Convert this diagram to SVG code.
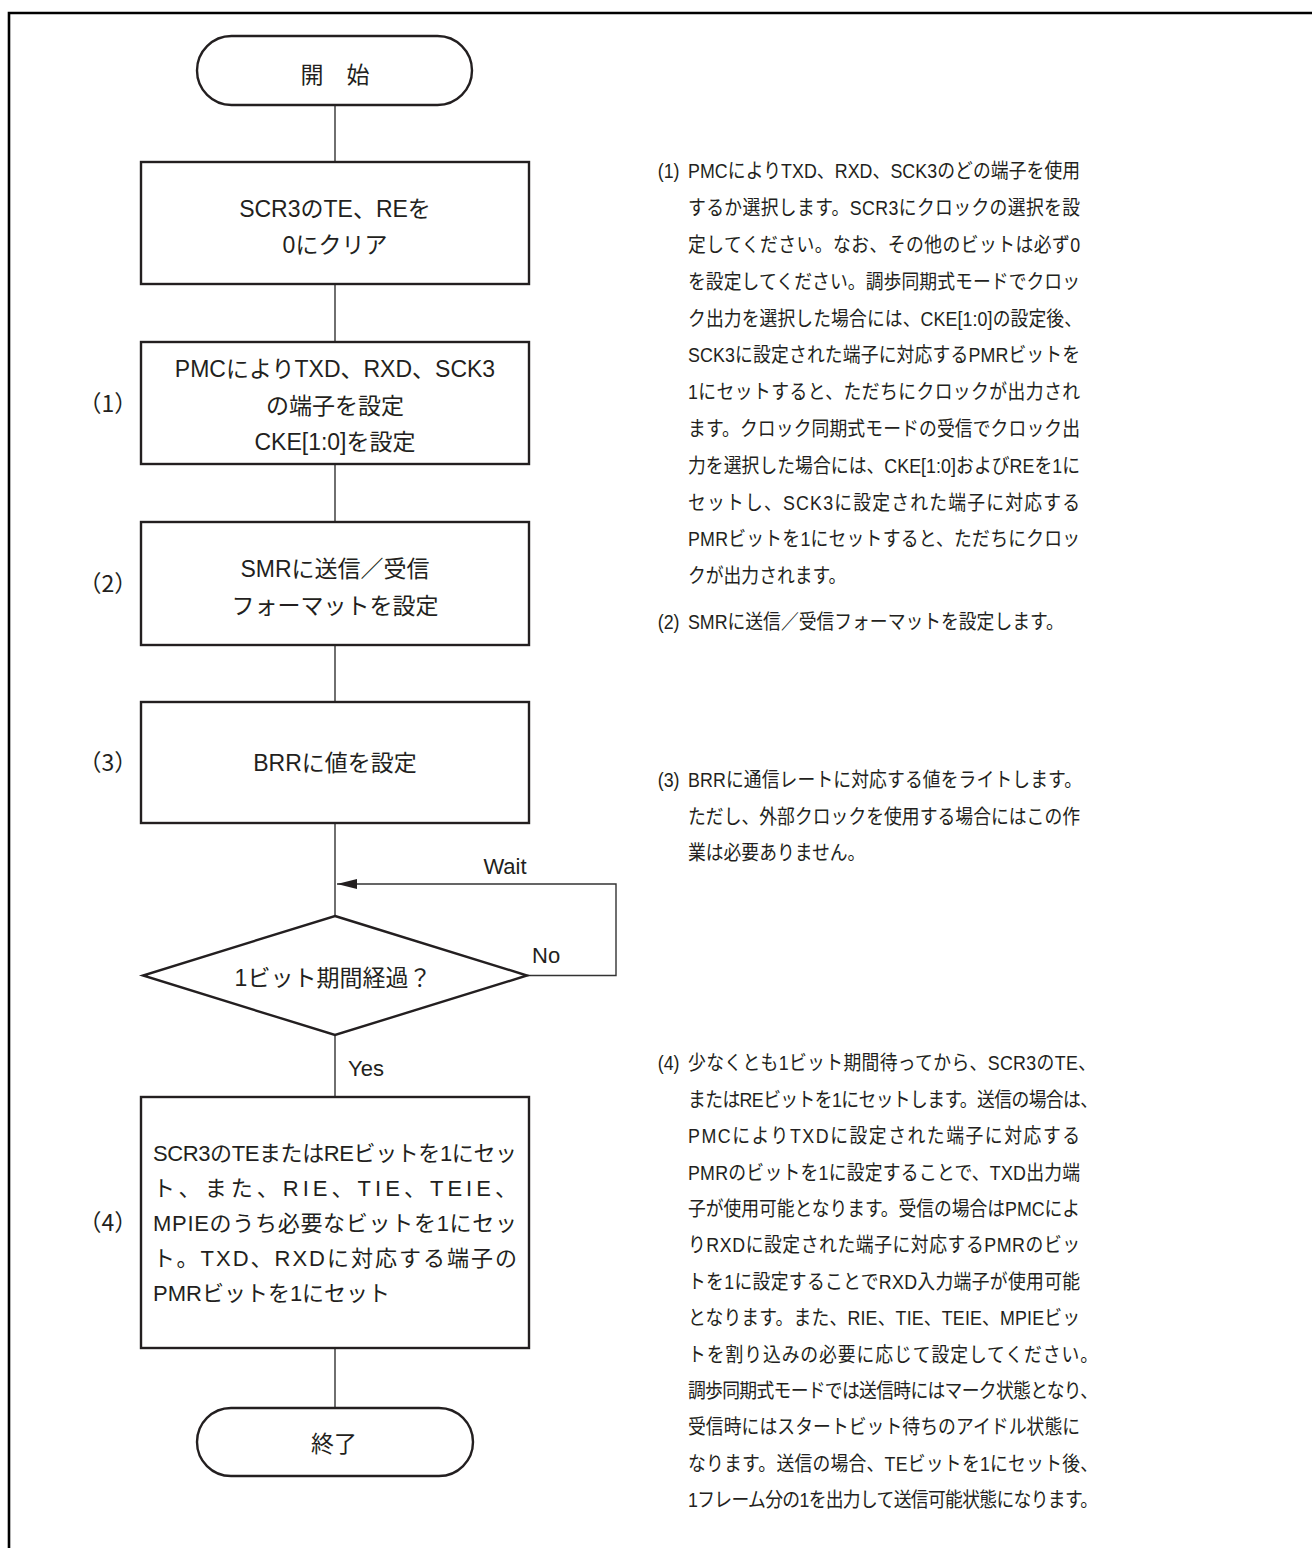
<svg xmlns="http://www.w3.org/2000/svg" width="1312" height="1548" viewBox="0 0 1312 1548">
<style>
  .frame{fill:none;stroke:#000;stroke-width:2.6}
  .box{fill:#fff;stroke:#231f20;stroke-width:2.4}
  .conn{fill:none;stroke:#333;stroke-width:1.4}
  .t{font-family:"Liberation Sans","Noto Sans CJK JP",sans-serif;fill:#231f20}
  .c{font-size:23px;text-anchor:middle}
  .b5{font-size:22px}
  .lbl{font-size:22px}
  .num{font-family:"Noto Sans CJK JP",sans-serif;font-size:23px;text-anchor:middle;fill:#231f20}
  .note{font-size:20px}
</style>
<defs>
  <marker id="arrow" markerUnits="userSpaceOnUse" markerWidth="20" markerHeight="10" viewBox="0 0 20 10" refX="20" refY="5" orient="auto">
    <path d="M0,0 L20,5 L0,10 Z" fill="#231f20"/>
  </marker>
</defs>
<rect x="0" y="0" width="1312" height="1548" fill="#fff"/>
<path class="frame" d="M9,1548 V13 H1312"/>

<g id="connectors">
  <path class="conn" d="M335,105 V162"/>
  <path class="conn" d="M335,284 V342"/>
  <path class="conn" d="M335,464 V522"/>
  <path class="conn" d="M335,645 V702"/>
  <path class="conn" d="M335,823 V916"/>
  <path class="conn" d="M335,1035 V1097"/>
  <path class="conn" d="M335,1348 V1408"/>
  <path class="conn" d="M527,975.5 H616 V884 H337" marker-end="url(#arrow)"/>
  <text class="t lbl" x="505" y="874" text-anchor="middle">Wait</text>
  <text class="t lbl" x="532" y="963">No</text>
  <text class="t lbl" x="348" y="1076">Yes</text>
</g>

<g id="start">
  <rect class="box" x="197" y="36" width="275" height="69" rx="34.5"/>
  <text class="t c" x="335" y="82.5">開　始</text>
</g>

<g id="clear">
  <rect class="box" x="141" y="162" width="388" height="122"/>
  <text class="t c" x="335" y="217">SCR3のTE、REを</text>
  <text class="t c" x="335" y="253">0にクリア</text>
</g>

<g id="step1">
  <text class="num" x="108" y="411.5">（1）</text>
  <rect class="box" x="141" y="342" width="388" height="122"/>
  <text class="t c" x="335" y="376.5">PMCによりTXD、RXD、SCK3</text>
  <text class="t c" x="335" y="413.5">の端子を設定</text>
  <text class="t c" x="335" y="449.5">CKE[1:0]を設定</text>
</g>

<g id="step2">
  <text class="num" x="108" y="591.5">（2）</text>
  <rect class="box" x="141" y="522" width="388" height="123"/>
  <text class="t c" x="335" y="576.5">SMRに送信／受信</text>
  <text class="t c" x="335" y="613.5">フォーマットを設定</text>
</g>

<g id="step3">
  <text class="num" x="108" y="771">（3）</text>
  <rect class="box" x="141" y="702" width="388" height="121"/>
  <text class="t c" x="335" y="771">BRRに値を設定</text>
</g>

<g id="decision">
  <polygon class="box" points="335,916 527,975.5 335,1035 143,975.5"/>
  <text class="t c" x="333" y="985.5">1ビット期間経過？</text>
</g>

<g id="step4">
  <text class="num" x="108" y="1231">（4）</text>
  <rect class="box" x="141" y="1097" width="388" height="251"/>
  <text class="t b5" x="153" y="1161" textLength="364" lengthAdjust="spacing">SCR3のTEまたはREビットを1にセッ</text>
  <text class="t b5" x="153" y="1196" textLength="364" lengthAdjust="spacing">ト、また、RIE、TIE、TEIE、</text>
  <text class="t b5" x="153" y="1231" textLength="364" lengthAdjust="spacing">MPIEのうち必要なビットを1にセッ</text>
  <text class="t b5" x="153" y="1266" textLength="364" lengthAdjust="spacing">ト。TXD、RXDに対応する端子の</text>
  <text class="t b5" x="153" y="1301">PMRビットを1にセット</text>
</g>

<g id="end">
  <rect class="box" x="197" y="1408" width="276" height="68" rx="34"/>
  <text class="t c" x="334" y="1451.5">終了</text>
</g>

<g id="notes" class="t note" transform="translate(688 0) scale(0.89 1)">
  <text x="-34" y="178.4">(1)</text>
  <text x="0" y="178.4" textLength="440.5" lengthAdjust="spacing">PMCによりTXD、RXD、SCK3のどの端子を使用</text>
  <text x="0" y="215.2" textLength="440.5" lengthAdjust="spacing">するか選択します。SCR3にクロックの選択を設</text>
  <text x="0" y="252" textLength="440.5" lengthAdjust="spacing">定してください。なお、その他のビットは必ず0</text>
  <text x="0" y="288.8" textLength="440.5" lengthAdjust="spacing">を設定してください。調歩同期式モードでクロッ</text>
  <text x="0" y="325.6" textLength="442.7" lengthAdjust="spacing">ク出力を選択した場合には、CKE[1:0]の設定後、</text>
  <text x="0" y="362.4" textLength="440.5" lengthAdjust="spacing">SCK3に設定された端子に対応するPMRビットを</text>
  <text x="0" y="399.2" textLength="440.5" lengthAdjust="spacing">1にセットすると、ただちにクロックが出力され</text>
  <text x="0" y="436" textLength="440.5" lengthAdjust="spacing">ます。クロック同期式モードの受信でクロック出</text>
  <text x="0" y="472.8" textLength="440.5" lengthAdjust="spacing">力を選択した場合には、CKE[1:0]およびREを1に</text>
  <text x="0" y="509.6" textLength="440.5" lengthAdjust="spacing">セットし、SCK3に設定された端子に対応する</text>
  <text x="0" y="546.4" textLength="440.5" lengthAdjust="spacing">PMRビットを1にセットすると、ただちにクロッ</text>
  <text x="0" y="583.2">クが出力されます。</text>

  <text x="-34" y="629.4">(2)</text>
  <text x="0" y="629.4">SMRに送信／受信フォーマットを設定します。</text>

  <text x="-34" y="787.4">(3)</text>
  <text x="0" y="787.4" textLength="442.7" lengthAdjust="spacing">BRRに通信レートに対応する値をライトします。</text>
  <text x="0" y="824" textLength="440.5" lengthAdjust="spacing">ただし、外部クロックを使用する場合にはこの作</text>
  <text x="0" y="860.4">業は必要ありません。</text>

  <text x="-34" y="1070.4">(4)</text>
  <text x="0" y="1070.4" textLength="458.4" lengthAdjust="spacing">少なくとも1ビット期間待ってから、SCR3のTE、</text>
  <text x="0" y="1106.8" textLength="460.7" lengthAdjust="spacing">またはREビットを1にセットします。送信の場合は、</text>
  <text x="0" y="1143.2" textLength="440.5" lengthAdjust="spacing">PMCによりTXDに設定された端子に対応する</text>
  <text x="0" y="1179.6" textLength="440.5" lengthAdjust="spacing">PMRのビットを1に設定することで、TXD出力端</text>
  <text x="0" y="1216" textLength="440.5" lengthAdjust="spacing">子が使用可能となります。受信の場合はPMCによ</text>
  <text x="0" y="1252.4" textLength="440.5" lengthAdjust="spacing">りRXDに設定された端子に対応するPMRのビッ</text>
  <text x="0" y="1288.8" textLength="440.5" lengthAdjust="spacing">トを1に設定することでRXD入力端子が使用可能</text>
  <text x="0" y="1325.2" textLength="440.5" lengthAdjust="spacing">となります。また、RIE、TIE、TEIE、MPIEビッ</text>
  <text x="0" y="1361.6" textLength="460.7" lengthAdjust="spacing">トを割り込みの必要に応じて設定してください。</text>
  <text x="0" y="1398" textLength="460.7" lengthAdjust="spacing">調歩同期式モードでは送信時にはマーク状態となり、</text>
  <text x="0" y="1434.4" textLength="440.5" lengthAdjust="spacing">受信時にはスタートビット待ちのアイドル状態に</text>
  <text x="0" y="1470.8" textLength="460.7" lengthAdjust="spacing">なります。送信の場合、TEビットを1にセット後、</text>
  <text x="0" y="1507.2" textLength="460.7" lengthAdjust="spacing">1フレーム分の1を出力して送信可能状態になります。</text>
</g>
</svg>
